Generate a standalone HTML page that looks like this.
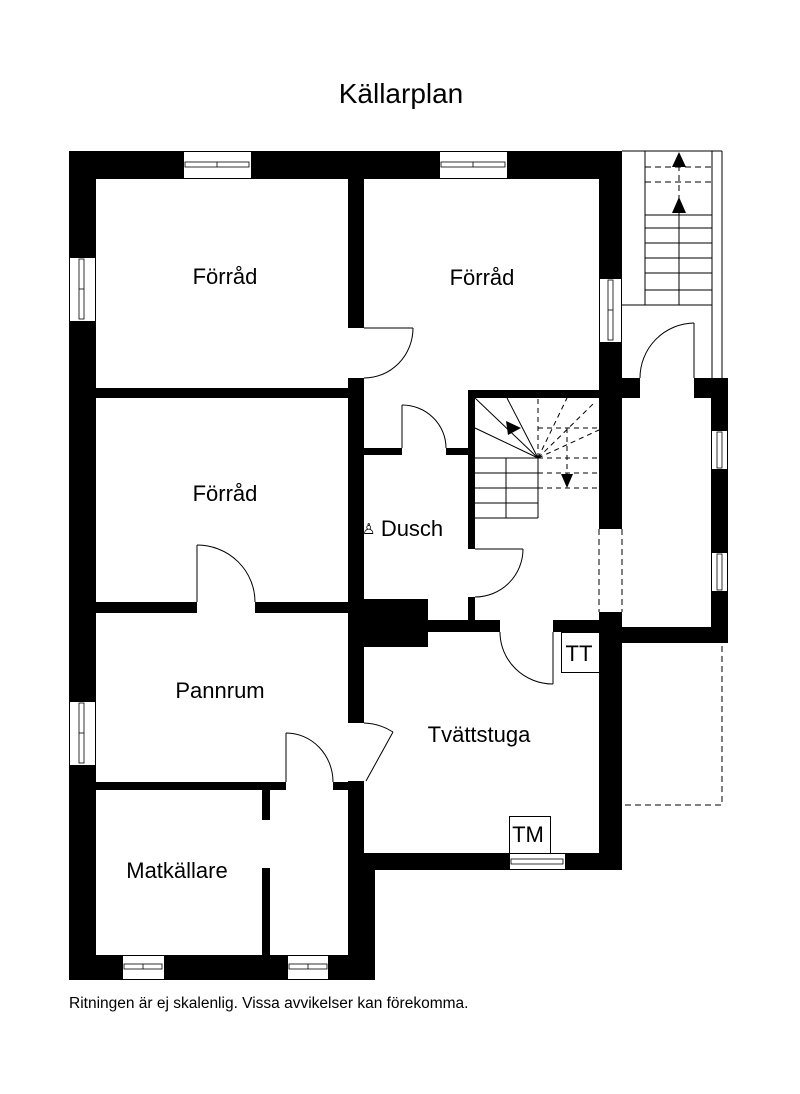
<!DOCTYPE html>
<html><head><meta charset="utf-8"><style>
html,body{margin:0;padding:0;background:#fff;}
svg{display:block;}
text{font-family:"Liberation Sans",Arial,sans-serif;fill:#000;}
</style></head><body>
<svg width="800" height="1094" viewBox="0 0 800 1094" xmlns="http://www.w3.org/2000/svg">
<text x="401" y="103" font-size="28" text-anchor="middle">Källarplan</text>

<!-- outside stair -->
<g stroke="#000" stroke-width="1" fill="none">
<line x1="622" y1="151" x2="722" y2="151"/>
<line x1="722" y1="151" x2="722" y2="378"/>
<line x1="712" y1="151" x2="712" y2="378"/>
<line x1="645" y1="151" x2="645" y2="305"/>
<line x1="622" y1="305" x2="712" y2="305"/>
<line x1="645" y1="167" x2="712" y2="167" stroke-dasharray="6,4"/>
<line x1="645" y1="182" x2="712" y2="182" stroke-dasharray="6,4"/>
<line x1="645" y1="215" x2="712" y2="215"/>
<line x1="645" y1="228" x2="712" y2="228"/>
<line x1="645" y1="243" x2="712" y2="243"/>
<line x1="645" y1="258" x2="712" y2="258"/>
<line x1="645" y1="273" x2="712" y2="273"/>
<line x1="645" y1="290" x2="712" y2="290"/>
<line x1="679" y1="205" x2="679" y2="305"/>
<line x1="679" y1="165" x2="679" y2="205" stroke-dasharray="6,4"/>
<line x1="694" y1="323" x2="694" y2="378"/>
<path d="M694 323 A55 55 0 0 0 640 378"/>
<path d="M625 805 H722 V643" stroke-dasharray="6,4"/>
<line x1="599" y1="529" x2="599" y2="612" stroke-dasharray="6,4"/>
<line x1="622" y1="529" x2="622" y2="612" stroke-dasharray="6,4"/>
</g>
<polygon points="679,152 672,167 686,167" fill="#000"/>
<polygon points="679,197 672,213 686,213" fill="#000"/>

<!-- walls -->
<g fill="#000">
<rect x="69" y="151" width="114" height="28"/>
<rect x="252" y="151" width="187" height="28"/>
<rect x="508" y="151" width="114" height="28"/>
<rect x="69" y="151" width="27" height="106"/>
<rect x="69" y="322" width="27" height="379"/>
<rect x="69" y="766" width="27" height="214"/>
<rect x="348" y="179" width="16" height="149"/>
<rect x="348" y="378" width="16" height="345"/>
<rect x="348" y="781" width="16" height="74"/>
<rect x="348" y="853" width="27" height="127"/>
<rect x="96" y="388" width="252" height="10"/>
<rect x="96" y="602" width="101" height="11"/>
<rect x="255" y="602" width="93" height="11"/>
<rect x="364" y="599" width="64" height="48"/>
<rect x="428" y="620" width="72" height="12"/>
<rect x="553" y="620" width="50" height="12"/>
<rect x="468" y="390" width="131" height="8"/>
<rect x="468" y="390" width="7" height="159"/>
<rect x="468" y="597" width="7" height="23"/>
<rect x="364" y="448" width="38" height="7"/>
<rect x="446" y="448" width="22" height="7"/>
<rect x="599" y="151" width="23" height="127"/>
<rect x="599" y="343" width="23" height="186"/>
<rect x="599" y="612" width="23" height="258"/>
<rect x="622" y="378" width="18" height="20"/>
<rect x="694" y="378" width="34" height="20"/>
<rect x="711" y="378" width="17" height="52"/>
<rect x="711" y="470" width="17" height="82"/>
<rect x="711" y="592" width="17" height="51"/>
<rect x="622" y="627" width="106" height="16"/>
<rect x="364" y="853" width="145" height="17"/>
<rect x="566" y="853" width="56" height="17"/>
<rect x="96" y="782" width="190" height="8"/>
<rect x="333" y="782" width="15" height="8"/>
<rect x="262" y="790" width="8" height="30"/>
<rect x="262" y="868" width="8" height="87"/>
<rect x="69" y="955" width="53" height="25"/>
<rect x="165" y="955" width="122" height="25"/>
<rect x="329" y="955" width="46" height="25"/>
</g>

<!-- windows -->
<g stroke="#000" stroke-width="1" fill="#fff">
<rect x="183.5" y="151.5" width="68" height="27"/>
<rect x="439.5" y="151.5" width="68" height="27"/>
<rect x="69.5" y="257.5" width="26" height="64"/>
<rect x="69.5" y="701.5" width="26" height="64"/>
<rect x="599.5" y="278.5" width="22" height="64"/>
<rect x="711.5" y="430.5" width="16" height="39"/>
<rect x="711.5" y="552.5" width="16" height="39"/>
<rect x="509.5" y="853.5" width="56" height="16"/>
<rect x="122.5" y="955.5" width="42" height="24"/>
<rect x="287.5" y="955.5" width="41" height="24"/>
</g>
<g stroke="#000" stroke-width="0.8" fill="none">
<rect x="185" y="162" width="64" height="5"/><line x1="217" y1="162" x2="217" y2="167"/>
<rect x="441" y="162" width="64" height="5"/><line x1="473" y1="162" x2="473" y2="167"/>
<rect x="79" y="259" width="5" height="60"/><line x1="79" y1="289" x2="84" y2="289"/>
<rect x="79" y="703" width="5" height="60"/><line x1="79" y1="733" x2="84" y2="733"/>
<rect x="608" y="280" width="5" height="60"/><line x1="608" y1="310" x2="613" y2="310"/>
<rect x="717" y="432" width="5" height="36"/>
<rect x="717" y="554" width="5" height="36"/>
<rect x="511" y="859" width="52" height="5"/>
<rect x="124" y="964" width="38" height="5"/><line x1="143" y1="964" x2="143" y2="969"/>
<rect x="289" y="964" width="38" height="5"/><line x1="308" y1="964" x2="308" y2="969"/>
</g>

<!-- doors -->
<g stroke="#000" stroke-width="1" fill="none">
<line x1="364" y1="328" x2="413" y2="328"/>
<path d="M413 328 A49 50 0 0 1 364 378"/>
<line x1="402" y1="405" x2="402" y2="448"/>
<path d="M402 405 A44 43 0 0 1 446 448"/>
<line x1="475" y1="549" x2="523" y2="549"/>
<path d="M523 549 A48 48 0 0 1 475 597"/>
<line x1="553" y1="632" x2="553" y2="684"/>
<path d="M553 684 A53 52 0 0 1 500 632"/>
<line x1="197" y1="545" x2="197" y2="602"/>
<path d="M197 545 A58 57 0 0 1 255 602"/>
<line x1="286" y1="733" x2="286" y2="782"/>
<path d="M286 733 A47 49 0 0 1 333 782"/>
<line x1="366" y1="781" x2="393" y2="732"/>
<path d="M364 723 A58 58 0 0 1 393 732"/>
<rect x="561.5" y="632.5" width="38" height="40"/>
<rect x="509.5" y="816.5" width="41" height="37"/>
</g>

<!-- inner stair -->
<g stroke="#000" stroke-width="1" fill="none">
<line x1="475" y1="458" x2="538" y2="458"/>
<line x1="475" y1="473" x2="538" y2="473"/>
<line x1="475" y1="488" x2="538" y2="488"/>
<line x1="475" y1="503" x2="538" y2="503"/>
<line x1="475" y1="518" x2="538" y2="518"/>
<line x1="506" y1="458" x2="506" y2="518"/>
<line x1="538" y1="458" x2="538" y2="518"/>
<line x1="538" y1="458" x2="475" y2="398"/>
<line x1="538" y1="458" x2="507" y2="398"/>
<line x1="538" y1="458" x2="475" y2="428"/>
<g stroke-dasharray="5,4">
<line x1="538" y1="458" x2="538" y2="398"/>
<line x1="538" y1="458" x2="567" y2="398"/>
<line x1="538" y1="458" x2="593" y2="404"/>
<line x1="538" y1="458" x2="599" y2="430"/>
<line x1="538" y1="428" x2="599" y2="428"/>
<line x1="538" y1="458" x2="599" y2="458"/>
<line x1="538" y1="473" x2="599" y2="473"/>
<line x1="538" y1="488" x2="599" y2="488"/>
<line x1="567" y1="428" x2="567" y2="478"/>
</g>
</g>
<polygon points="521,428 506,421 508,435" fill="#000"/>
<polygon points="567,488 561,474 573,474" fill="#000"/>

<!-- labels -->
<g font-size="22" text-anchor="middle">
<text x="225" y="284">Förråd</text>
<text x="482" y="285">Förråd</text>
<text x="225" y="501">Förråd</text>
<text x="220" y="698">Pannrum</text>
<text x="479" y="742">Tvättstuga</text>
<text x="177" y="878">Matkällare</text>
<text x="412" y="536">Dusch</text>
<text x="579" y="661">TT</text>
<text x="528" y="842">TM</text>
</g>
<text x="362" y="534" font-size="15">♙</text>
<text x="69" y="1008" font-size="15.5">Ritningen är ej skalenlig. Vissa avvikelser kan förekomma.</text>
</svg>
</body></html>
